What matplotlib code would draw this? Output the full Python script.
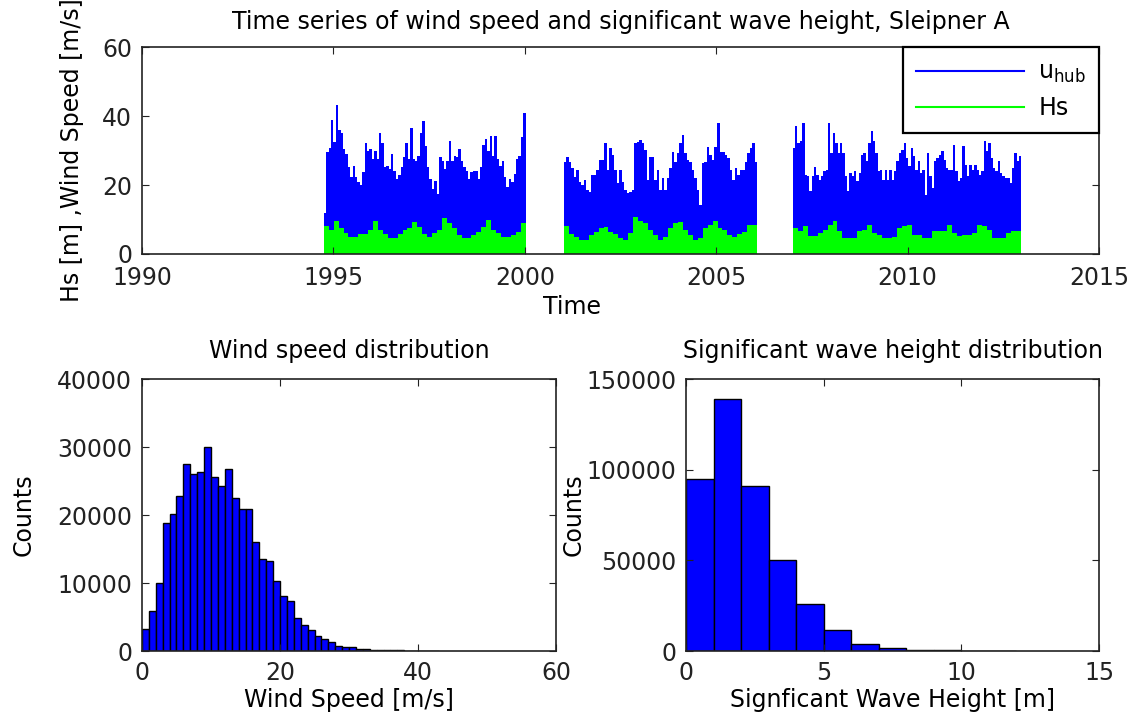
import numpy as np
import matplotlib.pyplot as plt
from matplotlib.lines import Line2D

# ---- time series (envelope of the plotted series) ----
seg_years = [(1994.75, 2000.02), (2001.02, 2006.07), (2007.00, 2012.97)]

wind_seg1 = [11.8, 29.6, 30.6, 38.8, 32.6, 43.2, 36.0, 35.0, 30.4, 29.0, 25.2, 22.3, 25.6, 22.3,
             20.8, 19.9, 23.8, 32.2, 29.8, 30.5, 27.4, 29.8, 27.4, 35.2, 32.2, 25.2, 25.6, 24.7,
             29.0, 24.2, 21.8, 22.8, 25.2, 28.0, 32.3, 27.4, 36.5, 27.4, 27.0, 28.5, 35.2, 38.6,
             31.2, 25.2, 21.8, 18.9, 21.3, 17.4, 28.0, 27.0, 24.7, 27.0, 32.8, 27.0, 28.5, 28.0,
             30.4, 27.0, 25.2, 24.2, 21.8, 23.8, 24.2, 24.2, 21.8, 25.2, 31.7, 33.2, 29.8, 34.3,
             28.5, 34.3, 27.4, 25.6, 27.0, 22.3, 19.4, 21.8, 20.8, 23.3, 27.4, 28.5, 33.8, 40.8]
wind_seg2 = [26.8, 28.2, 26.8, 24.8, 22.4, 24.3, 21.0, 20.0, 21.4, 18.6, 18.1, 22.9, 22.9, 24.3,
             27.2, 27.2, 32.1, 24.3, 30.6, 28.7, 24.3, 20.5, 24.3, 21.0, 18.6, 17.6, 18.1, 18.6,
             32.1, 32.6, 33.1, 32.1, 30.1, 21.4, 28.2, 28.2, 21.4, 24.3, 18.6, 21.9, 18.6, 21.9,
             24.8, 29.7, 26.8, 29.2, 32.1, 34.5, 29.2, 27.2, 26.8, 24.3, 21.9, 18.6, 14.2, 26.3,
             26.8, 31.1, 28.7, 27.2, 31.1, 37.9, 29.7, 29.7, 28.7, 27.7, 24.3, 21.4, 24.8, 22.9,
             24.3, 24.3, 26.8, 29.2, 30.6, 32.1, 26.8]
wind_seg3 = [30.7, 37.0, 32.2, 32.7, 38.0, 23.0, 22.5, 18.2, 22.5, 25.1, 23.0, 21.5, 22.5, 24.0,
             24.4, 38.0, 29.3, 35.1, 32.2, 29.3, 32.2, 29.3, 22.5, 18.2, 23.5, 22.5, 24.0, 21.1,
             23.5, 28.8, 29.3, 26.9, 32.2, 35.6, 32.7, 29.3, 24.0, 24.4, 21.5, 24.4, 21.5, 24.4,
             21.5, 24.0, 26.9, 29.3, 30.2, 32.2, 27.8, 25.4, 30.7, 28.3, 24.4, 26.9, 23.5, 24.4,
             17.2, 29.3, 22.5, 19.1, 26.9, 27.8, 28.8, 29.8, 27.3, 24.9, 24.4, 24.4, 31.7, 24.0,
             21.1, 22.0, 31.2, 25.9, 22.5, 25.9, 24.4, 25.9, 24.4, 23.0, 24.0, 32.7, 29.8, 32.2,
             27.8, 24.9, 24.0, 26.9, 23.5, 22.5, 22.0, 22.0, 20.6, 24.9, 29.3, 26.9, 28.3]

hs_seg1 = [8.0, 6.9, 9.5, 7.5, 6.0, 5.0, 5.0, 5.9, 5.9, 6.9, 9.5, 6.9, 5.9, 4.5, 4.5, 5.9, 6.9,
           7.5, 9.4, 7.9, 5.9, 5.0, 6.0, 6.9, 10.3, 8.9, 7.5, 5.5, 4.5, 4.5, 5.5, 6.5, 7.9, 9.8,
           6.9, 6.0, 5.0, 5.0, 5.5, 6.5, 8.9]
hs_seg2 = [8.0, 5.9, 5.0, 4.0, 4.0, 5.4, 6.5, 7.4, 7.9, 6.5, 5.9, 4.5, 4.0, 6.0, 10.8, 9.5, 8.9,
           6.9, 5.5, 4.0, 5.0, 7.4, 8.9, 9.4, 7.0, 5.5, 4.0, 4.5, 7.4, 8.5, 9.5, 7.4, 6.9, 5.5,
           5.0, 5.9, 6.5, 8.4, 8.4]
hs_seg3 = [7.5, 6.6, 8.0, 5.1, 5.1, 6.1, 7.0, 8.5, 9.5, 6.6, 4.6, 4.6, 4.6, 6.6, 7.0, 8.5, 6.0,
           5.6, 4.6, 4.6, 5.0, 7.5, 8.0, 8.5, 5.6, 5.6, 4.6, 4.6, 6.6, 6.6, 6.6, 8.5, 6.0, 5.1,
           5.6, 5.6, 6.0, 8.5, 8.0, 7.0, 4.6, 4.6, 4.6, 6.0, 6.6, 6.6]

# ---- histograms ----
wind_counts = [3200, 5900, 10000, 18900, 20200, 22800, 27500, 26100, 26400, 30000, 25600,
               24200, 26700, 22500, 20900, 20900, 16100, 13600, 13300, 10300, 8100, 7300,
               4800, 3900, 3100, 2200, 1700, 1300, 800, 600, 550, 300, 250, 200, 160, 130,
               110, 90, 70, 60, 50, 40, 30]
wind_edges = list(range(0, 44))
hs_counts = [94900, 138800, 90900, 50000, 26200, 11400, 4000, 1900, 700, 400, 250, 150]
hs_edges = list(range(0, 13))

FS = 17
plt.rcParams['font.family'] = 'DejaVu Sans'
plt.rcParams['font.size'] = FS
plt.rcParams['axes.linewidth'] = 1.2

blue = '#0000FF'
green = '#00FF00'

fig = plt.figure(figsize=(11.35, 7.22), dpi=100)
ax = fig.add_axes([0.1251, 0.6482, 0.8432, 0.2867])
ax1 = fig.add_axes([0.1251, 0.0983, 0.3648, 0.3767])
ax2 = fig.add_axes([0.6044, 0.0983, 0.3639, 0.3767])

# time series as filled envelopes
for (y0, y1), w in zip(seg_years, [wind_seg1, wind_seg2, wind_seg3]):
    ax.stairs(w, np.linspace(y0, y1, len(w) + 1), fill=True, color=blue, baseline=0)
for (y0, y1), h in zip(seg_years, [hs_seg1, hs_seg2, hs_seg3]):
    ax.stairs(h, np.linspace(y0, y1, len(h) + 1), fill=True, color=green, baseline=0)

ax.set_xlim(1990, 2015)
ax.set_ylim(0, 60)
ax.set_xticks([1990, 1995, 2000, 2005, 2010, 2015])
ax.set_yticks([0, 20, 40, 60])
ax.set_title('Time series of wind speed and significant wave height, Sleipner A', fontsize=FS, pad=13)
ax.set_xlabel('Time', fontsize=FS)
ax.xaxis.set_label_coords(0.449, -0.2)
ax.set_ylabel('Hs [m] ,Wind Speed [m/s]', fontsize=FS)
ax.yaxis.set_label_coords(-0.061, 0.5)
handles = [Line2D([], [], color=blue, lw=1.5), Line2D([], [], color=green, lw=1.5)]
leg = ax.legend(handles, [r'u$_{\rm hub}$', 'Hs'], loc='upper right', borderaxespad=0,
                handlelength=4.6, fancybox=False, framealpha=1, edgecolor='black',
                fontsize=FS, borderpad=0.55, labelspacing=0.45, handletextpad=0.6)
leg.get_frame().set_linewidth(1.6)

# wind speed histogram
ax1.bar(wind_edges[:-1], wind_counts, width=1, align='edge', color=blue, edgecolor='black', linewidth=1)
ax1.set_xlim(0, 60)
ax1.set_ylim(0, 40000)
ax1.set_xticks([0, 20, 40, 60])
ax1.set_yticks([0, 10000, 20000, 30000, 40000])
ax1.set_title('Wind speed distribution', fontsize=FS, pad=15)
ax1.set_xlabel('Wind Speed [m/s]', fontsize=FS, labelpad=2)
ax1.set_ylabel('Counts', fontsize=FS)
ax1.yaxis.set_label_coords(-0.258, 0.5)

# wave height histogram
ax2.bar(hs_edges[:-1], hs_counts, width=1, align='edge', color=blue, edgecolor='black', linewidth=1)
ax2.set_xlim(0, 15)
ax2.set_ylim(0, 150000)
ax2.set_xticks([0, 5, 10, 15])
ax2.set_yticks([0, 50000, 100000, 150000])
ax2.set_title('Significant wave height distribution', fontsize=FS, pad=15)
ax2.set_xlabel('Signficant Wave Height [m]', fontsize=FS, labelpad=2)
ax2.set_ylabel('Counts', fontsize=FS)
ax2.yaxis.set_label_coords(-0.242, 0.5)

for a in (ax, ax1, ax2):
    a.ticklabel_format(style='plain', useOffset=False)
    a.tick_params(direction='in', top=True, right=True, length=5, pad=7, labelsize=FS, colors='#222222')
    for s in a.spines.values():
        s.set_color('#222222')
ax.tick_params(axis='x', pad=9)

fig.savefig('out.png', dpi=100)
